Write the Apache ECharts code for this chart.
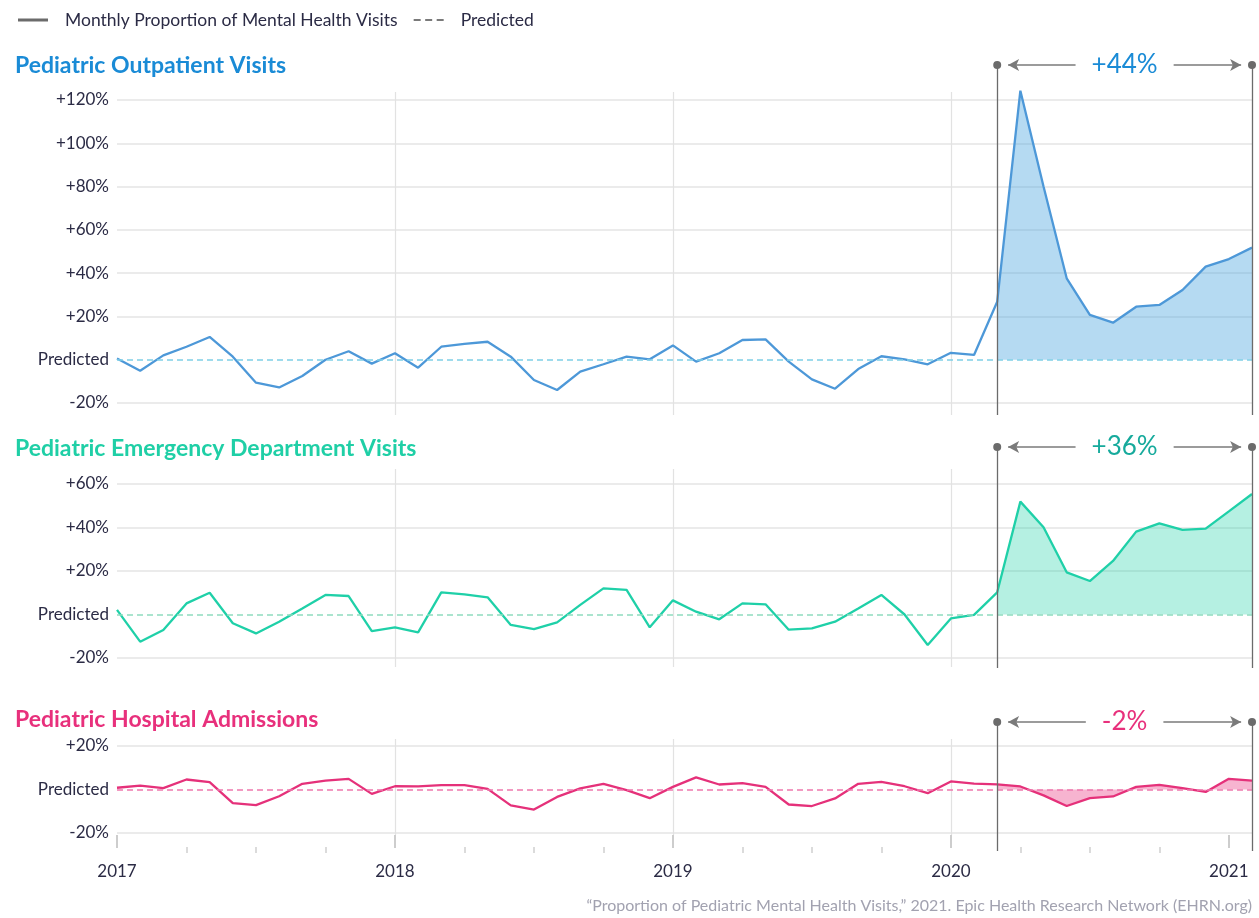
<!DOCTYPE html>
<html><head><meta charset="utf-8">
<script src="https://cdn.jsdelivr.net/npm/echarts@6/dist/echarts.min.js"></script>
<style>html,body{margin:0;padding:0;background:#fff}#c{width:1259px;height:918px}</style>
</head><body><div id="c"></div>
<script>
// ---------- DATA ----------
const months = [
 'Jan 2017','Feb 2017','Mar 2017','Apr 2017','May 2017','Jun 2017','Jul 2017','Aug 2017','Sep 2017','Oct 2017','Nov 2017','Dec 2017',
 'Jan 2018','Feb 2018','Mar 2018','Apr 2018','May 2018','Jun 2018','Jul 2018','Aug 2018','Sep 2018','Oct 2018','Nov 2018','Dec 2018',
 'Jan 2019','Feb 2019','Mar 2019','Apr 2019','May 2019','Jun 2019','Jul 2019','Aug 2019','Sep 2019','Oct 2019','Nov 2019','Dec 2019',
 'Jan 2020','Feb 2020','Mar 2020','Apr 2020','May 2020','Jun 2020','Jul 2020','Aug 2020','Sep 2020','Oct 2020','Nov 2020','Dec 2020',
 'Jan 2021','Feb 2021'
];
const yearTicks = ['Jan 2017','Jan 2018','Jan 2019','Jan 2020','Jan 2021'];
const yearGridLines = ['Jan 2018','Jan 2019','Jan 2020'];
const quarterTicks = ['Apr 2017','Jul 2017','Oct 2017','Apr 2018','Jul 2018','Oct 2018','Apr 2019','Jul 2019','Oct 2019','Apr 2020','Jul 2020','Oct 2020'];

const outpatient = [
 0.6, -5.1, 2, 6, 10.5, 1.4, -10.6, -12.8, -7.5, 0, 3.9, -1.8,
 3, -3.7, 6, 7.3, 8.3, 1.4, -9.4, -14, -5.5, -2.1, 1.4, 0.2,
 6.6, -0.9, 3, 9.1, 9.4, -0.9, -9.1, -13.4, -4.3, 1.6, 0.2, -2.1,
 3.2, 2.2, 26.8, 124.3, 80, 37.6, 20.7, 17.1, 24.5, 25.3, 32.2, 43,
 46.5, 51.8
];
const emergency = [
 2.1, -12.5, -7.1, 5.1, 10, -4, -8.7, -3.3, 2.8, 9, 8.5, -7.6,
 -5.9, -8.2, 10.2, 9.3, 7.9, -4.8, -6.7, -3.6, 4.4, 12, 11.3, -5.9,
 6.5, 1.3, -2.2, 5.1, 4.7, -7, -6.4, -3.3, 2.8, 9, 0, -14,
 -1.8, -0.2, 10.2, 51.9, 40.1, 19.4, 15.4, 24.6, 38.1, 41.9, 38.9, 39.5,
 47.4, 55.4
];
const admissions = [
 0.8, 1.8, 0.6, 4.6, 3.4, -6.3, -7.2, -3.1, 2.6, 4.1, 4.9, -2,
 1.5, 1.4, 2, 2, 0.3, -7.3, -9.2, -3.4, 0.5, 2.6, -0.3, -4,
 1.2, 5.6, 2.3, 2.9, 1.2, -6.9, -7.6, -4.1, 2.6, 3.5, 1.5, -1.7,
 3.7, 2.7, 2.4, 1.4, -2.7, -7.6, -4, -3.2, 1.2, 2.1, 0.6, -1.1,
 4.9, 4.1
];
const outpatientTicks = [-20, 0, 20, 40, 60, 80, 100, 120];
const emergencyTicks = [-20, 0, 20, 40, 60];
const admissionsTicks = [-20, 0, 20];

const periodStart = 'Mar 2020';
const periodEnd = 'Feb 2021';
const outpatientChange = '+44%';
const emergencyChange = '+36%';
const admissionsChange = '-2%';

const legendNames = ['Monthly Proportion of Mental Health Visits', 'Predicted'];
const sourceText = '\u201CProportion of Pediatric Mental Health Visits,\u201D 2021. Epic Health Research Network (EHRN.org)';

// ---------- STYLE / LAYOUT ----------
const panels = [
 {title:'Pediatric Outpatient Visits', values: outpatient, ticks: outpatientTicks, change: outpatientChange,
  line:'#4d98d8', titleColor:'#1a8bd6', fill:'rgba(79,166,224,0.42)', dash:'#7fcfe6', changeColor:'#1a8bd6',
  main:[100,303], bg:[92,323], ann:[65,350], titleTop:54},
 {title:'Pediatric Emergency Department Visits', values: emergency, ticks: emergencyTicks, change: emergencyChange,
  line:'#1fd0a8', titleColor:'#1fcfa6', fill:'rgba(29,208,168,0.33)', dash:'#8edcbf', changeColor:'#16aa9c',
  main:[484,174], bg:[469,198], ann:[447,221], titleTop:437},
 {title:'Pediatric Hospital Admissions', values: admissions, ticks: admissionsTicks, change: admissionsChange,
  line:'#e5317a', titleColor:'#e8307c', fill:'rgba(232,48,124,0.36)', dash:'#ee78ad', changeColor:'#e8307c',
  main:[746,87], bg:[739,96], ann:[722,129], titleTop:708}
];
const LEFT = 117, RIGHT = 7;
const TXT = '#2b2b45';
const FONT = 'Lato';

const startIdx = months.indexOf(periodStart);
const endIdx = months.indexOf(periodEnd);

const grids = [], xAxes = [], yAxes = [], series = [], titles = [];

panels.forEach((p, k) => {
  const gMain = grids.length;
  grids.push({left: LEFT, right: RIGHT, top: p.main[0], height: p.main[1], outerBoundsMode: 'none', containLabel: false});
  grids.push({left: LEFT, right: RIGHT, top: p.bg[0], height: p.bg[1], outerBoundsMode: 'none', containLabel: false});
  grids.push({left: LEFT, right: RIGHT, top: p.ann[0], height: p.ann[1], outerBoundsMode: 'none', containLabel: false});
  const gBg = gMain + 1, gAnn = gMain + 2;

  const xMain = xAxes.length;
  xAxes.push({type:'category', gridIndex: gMain, data: months, boundaryGap:false, show:false});
  const yMain = yAxes.length;
  yAxes.push({type:'value', gridIndex: gMain, min: p.ticks[0], max: p.ticks[p.ticks.length-1], interval: 20,
    axisLine:{show:false}, axisTick:{show:false},
    axisLabel:{color: TXT, fontSize: 17, fontFamily: FONT, margin: 8,
      formatter: v => v === 0 ? 'Predicted' : (v > 0 ? '+' + v + '%' : v + '%')},
    splitLine:{show:true, lineStyle:{color: p.ticks.map(t => t === 0 ? 'rgba(0,0,0,0)' : '#e4e4e4'), width: 1.5}}
  });

  const isLast = k === panels.length - 1;
  xAxes.push({type:'category', gridIndex: gBg, data: months, boundaryGap:false, position:'bottom',
    offset: isLast ? 10 : 0,
    axisLine:{show:false},
    axisTick:{show: isLast, interval: (i) => yearTicks.includes(months[i]), length: 13, lineStyle:{color:'#bdbdbd', width:1.5}},
    axisLabel:{show: isLast, interval: (i) => yearTicks.includes(months[i]), formatter: v => v.slice(4),
      color: TXT, fontSize: 17, fontFamily: FONT, margin: 18},
    splitLine:{show:true, interval: (i) => yearGridLines.includes(months[i]), lineStyle:{color:'#e2e2e2', width:1.2}}
  });
  yAxes.push({type:'value', gridIndex: gBg, min:0, max:1, show:false});
  if (isLast) {
    xAxes.push({type:'category', gridIndex: gBg, data: months, boundaryGap:false, position:'bottom', offset: 12,
      axisLine:{show:false}, axisLabel:{show:false}, splitLine:{show:false},
      axisTick:{show:true, interval: (i) => quarterTicks.includes(months[i]), length: 6, lineStyle:{color:'#cfcfcf', width:1.5}}
    });
  }

  const xAnn = xAxes.length;
  xAxes.push({type:'value', gridIndex: gAnn, min:0, max: months.length - 1, show:false});
  const yAnn = yAxes.length;
  yAxes.push({type:'value', gridIndex: gAnn, min:0, max:1, show:false});

  series.push({type:'line', xAxisIndex: xMain, yAxisIndex: yMain, silent:true,
    data: p.values.map((v, i) => i >= startIdx && i <= endIdx ? v : '-'),
    symbol:'none', lineStyle:{width:0}, areaStyle:{color: p.fill, opacity: 1, origin: 0}, z: 2, clip: false});
  series.push({type:'line', name: p.title, xAxisIndex: xMain, yAxisIndex: yMain, data: p.values,
    symbol:'none', clip:false, lineStyle:{color: p.line, width: 2.3}, z: 4,
    markLine:{silent:true, symbol:'none', label:{show:false}, animation:false,
      lineStyle:{color: p.dash, type:[6,4], width:1.6}, data:[{yAxis: 0}]}});
  series.push({type:'line', xAxisIndex: xAnn, yAxisIndex: yAnn, data: [], silent:true, z: 5,
    markLine:{silent:true, animation:false, symbolSize: 8, itemStyle:{color:'#666'},
      data:[
        [{coord:[startIdx, 0], symbol:'none', label:{show:false}, lineStyle:{color:'#6b6b6b', width:1.3, type:'solid'}},
         {coord:[startIdx, 1], symbol:'circle', symbolSize:8}],
        [{coord:[endIdx, 0], symbol:'none', label:{show:false}, lineStyle:{color:'#6b6b6b', width:1.3, type:'solid'}},
         {coord:[endIdx, 1], symbol:'circle', symbolSize:8}],
        [{coord:[startIdx + 0.47, 1], symbol:'arrow', symbolSize:[9, 11],
          lineStyle:{color:'#7a7a7a', width:1.5, type:'solid'},
          label:{show:true, position:'middle', distance: 0, verticalAlign:'middle', align:'center',
            formatter: p.change, color: p.changeColor, fontSize: 26,
            fontFamily: FONT, fontWeight: 'normal', backgroundColor:'#fff', padding:[2, 16]}},
         {coord:[endIdx - 0.47, 1], symbol:'arrow', symbolSize:[9, 11]}]
      ]}});

  titles.push({text: p.title, left: 15, top: p.titleTop, padding: 0,
    textStyle:{color: p.titleColor, fontSize: 23, fontWeight: 'bold', fontFamily: FONT}});

  if (k === 0) {
    series.push({type:'line', name: legendNames[0], xAxisIndex: xAnn, yAxisIndex: yAnn, data: [], symbol:'none',
      lineStyle:{color:'#6b6b6b', width:2.5}, itemStyle:{color:'#6b6b6b'}});
    series.push({type:'line', name: legendNames[1], xAxisIndex: xAnn, yAxisIndex: yAnn, data: [], symbol:'none',
      lineStyle:{color:'#7a7a7a', width:1.5, type:[4,4]}, itemStyle:{color:'#7a7a7a'}});
  }
});

titles.push({text: sourceText, right: RIGHT, top: 898, padding: 0,
  textStyle:{color:'#a2a2b0', fontSize: 16, fontWeight: 'normal', fontFamily: FONT}});

const chart = echarts.init(document.getElementById('c'), null, {renderer:'canvas'});
chart.setOption({
  animation: false,
  backgroundColor: '#fff',
  textStyle: {fontFamily: FONT},
  title: titles,
  legend: {
    data: [
      {name: legendNames[0], icon: 'path://M0,0h30v3h-30z', itemStyle:{color:'#6b6b6b'}},
      {name: legendNames[1], icon: 'path://M0,0h7v2h-7zM11.5,0h7v2h-7zM23,0h7v2h-7z', itemStyle:{color:'#7a7a7a'}}
    ],
    left: 18, top: 11, padding: 0, itemWidth: 30, itemHeight: 16, itemGap: 16,
    selectedMode: false, symbolKeepAspect: true,
    textStyle:{color: TXT, fontSize: 17.5, fontFamily: FONT, padding:[0,0,0,12]}},
  grid: grids,
  xAxis: xAxes,
  yAxis: yAxes,
  series: series
});
</script>
</body></html>
